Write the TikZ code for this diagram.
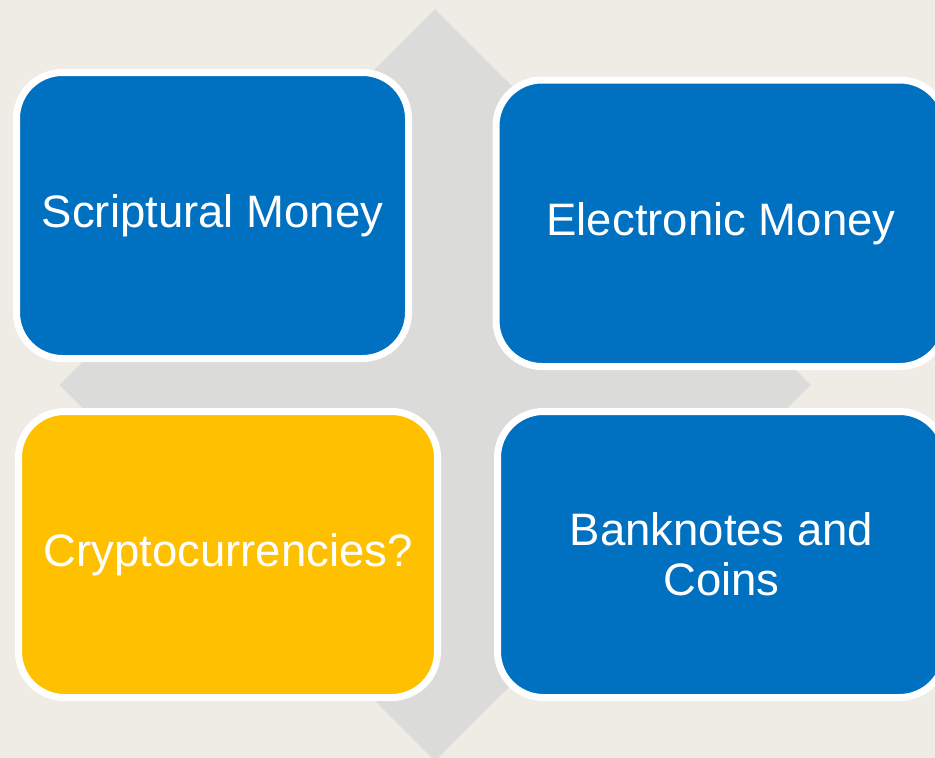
\documentclass[tikz,border=0pt]{standalone}
\usepackage{fontspec}
\setmainfont{Liberation Sans}
\definecolor{bgc}{HTML}{EEECE5}
\definecolor{dia}{HTML}{DBDBD9}
\definecolor{bluebox}{HTML}{0070C0}
\definecolor{yellowbox}{HTML}{FFC000}
\tikzset{
  card/.style={draw=white, line width=7pt, rounded corners=46pt, rectangle,
    text=white, align=center, inner sep=0pt,
    font=\fontsize{45.5}{50}\selectfont},
}
\begin{document}
\begin{tikzpicture}[x=1pt,y=-1pt]
\useasboundingbox (0,0) rectangle (935,758);
\clip (0,0) rectangle (935,758);
\fill[bgc] (0,0) rectangle (935,758);
\fill[dia] (435,9) -- (810.5,385) -- (435,761) -- (59.5,385) -- cycle;
\node[card, fill=bluebox, minimum width=392pt, minimum height=286pt] (scr) at (212.5,215.5) {Scriptural Money};
\node[card, fill=bluebox, minimum width=450pt, minimum height=286.5pt] (ele) at (721,223.25) {Electronic Money};
\node[card, fill=yellowbox, minimum width=419pt, minimum height=286pt] (cry) at (228,554.5) {Cryptocurrencies?};
\node[card, fill=bluebox, minimum width=448pt, minimum height=286pt] (ban) at (721.5,554.5) {Banknotes and\\Coins};
\end{tikzpicture}
\end{document}
